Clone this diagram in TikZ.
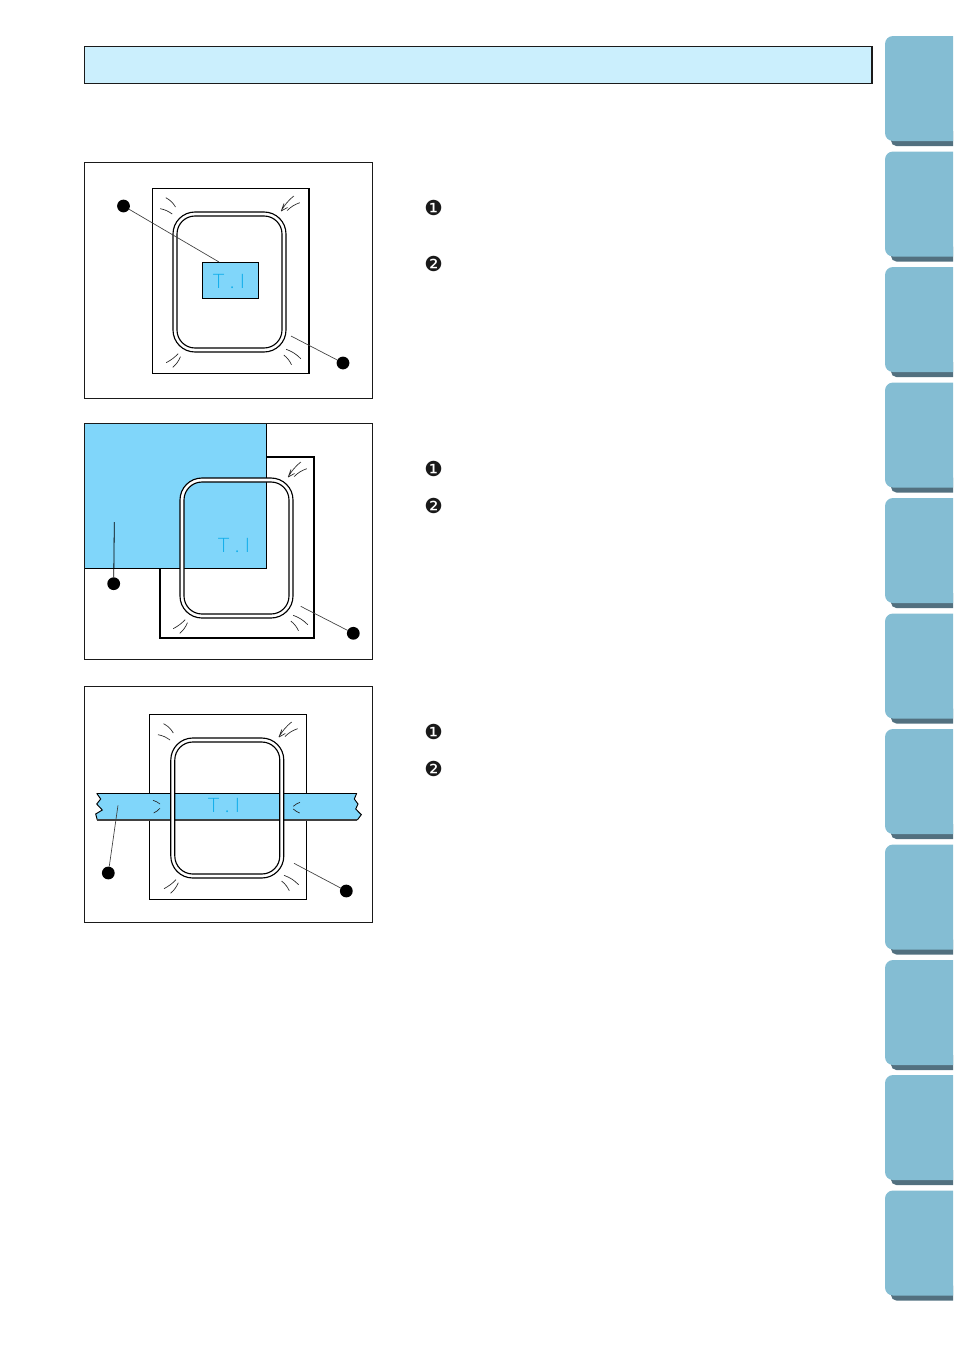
\documentclass[tikz,border=0pt]{standalone}
\usepackage{fontspec}
\setmainfont{Liberation Sans}
\newfontfamily\numfont{DejaVu Sans}
\newfontfamily\tifont{Lato Light}
\definecolor{headerfill}{HTML}{CBEFFD}
\definecolor{tabfill}{HTML}{84BDD3}
\definecolor{tabshade}{HTML}{52707F}
\definecolor{fabric}{HTML}{80D6FA}
\definecolor{tiblue}{HTML}{12AEEB}
\definecolor{inkline}{HTML}{1A1A1A}
\tikzset{
  every node/.style={outer sep=0pt},
  panelbox/.style={draw=inkline,line width=0.85pt,fill=white},
  sheetbox/.style={draw=black,line width=0.95pt,fill=white},
  fabricbox/.style={fill=fabric},
  edgeline/.style={draw=black,line width=0.85pt},
  hoopline/.style={draw=black,line width=0.85pt},
  wrinkle/.style={draw=black!85,line width=0.5pt},
  leader/.style={draw=black!75,line width=0.5pt},
  dotnode/.style={circle,fill=black,inner sep=0pt,minimum size=9.6pt},
  tilabel/.style={text=tiblue,font=\tifont\fontsize{15pt}{16pt}\selectfont,inner sep=0pt},
  numlabel/.style={font=\numfont\fontsize{15.5pt}{16pt}\selectfont,text=black!90,inner sep=0pt},
  tabshadow/.style={fill=tabshade},
  tabbody/.style={fill=tabfill},
}
\newcommand{\hoopat}[2]{%
  \begin{scope}[shift={(#1,#2)}]
    \fill[white,even odd rule,rounded corners=16.5pt] (-56.5,-70) rectangle (56.5,70)
      [rounded corners=13.5pt] (-52.5,-66) rectangle (52.5,66);
    \draw[hoopline,rounded corners=16.5pt] (-56.5,-70) rectangle (56.5,70);
    \draw[hoopline,rounded corners=13.5pt] (-52.5,-66) rectangle (52.5,66);
  \end{scope}}
\newcommand{\wrinklesat}[2]{%
  \begin{scope}[shift={(#1,#2)}]
    \draw[wrinkle] (-63.7,-84.3) to[bend left=15] (-54,-75);
    \draw[wrinkle] (-69.3,-73.3) to[bend left=12] (-57.3,-68);
    \draw[wrinkle] (64.3,-86) to[bend right=10] (51.7,-71) -- (54.5,-78.5);
    \draw[wrinkle] (51.7,-71) -- (58,-74.5);
    \draw[wrinkle] (70.3,-79.3) to[bend right=12] (57.7,-71.5);
    \draw[wrinkle] (-63.3,80.7) to[bend right=8] (-51.3,71.7);
    \draw[wrinkle] (-56.7,85.3) to[bend right=12] (-49,74.7);
    \draw[wrinkle] (56.7,67.3) to[bend left=12] (71.3,76.7);
    \draw[wrinkle] (54.3,73) to[bend left=12] (62,82.7);
  \end{scope}}
\begin{document}
\begin{tikzpicture}[x=0.75pt,y=-0.75pt]
\useasboundingbox (0,0) rectangle (954,1349);
% tabs
\begin{scope}
  \clip (0,0) rectangle (953,1349);
  \foreach \ty in {36,151.5,267,382.5,498,613.5,729,844.5,960,1075,1190.5}{
    \fill[tabshadow,rounded corners=4pt] (891,\ty+95) rectangle (965,\ty+110);
    \fill[tabbody,rounded corners=6pt] (885,\ty) rectangle (965,\ty+105);
  }
\end{scope}
% header
\node[draw=inkline,line width=0.85pt,fill=headerfill,inner sep=0pt,minimum width=590.6pt,minimum height=27.75pt,anchor=north west] (header) at (84.5,46.5) {};

% panel 1
\node[panelbox,inner sep=0pt,minimum width=216pt,minimum height=177pt,anchor=north west] (panelA) at (84.5,162.5) {};
\node[sheetbox,inner sep=0pt,minimum width=117.5pt,minimum height=138.5pt,anchor=north west] (sheetA) at (152.4,188.5) {};
\wrinklesat{229.5}{282}
\hoopat{229.5}{282}
\node[fabricbox,edgeline,inner sep=0pt,minimum width=42.2pt,minimum height=27pt,anchor=north west] (patchA) at (202.5,262.3) {};
\node[tilabel] (tiA) at (229,281.5) {T . I};
\node[dotnode] (dotAa) at (123.5,206) {};
\node[dotnode] (dotAb) at (343,363) {};
\coordinate (endAa) at (219,262);
\coordinate (endAb) at (291,336);
\draw[leader] (dotAa) -- (endAa);
\draw[leader] (dotAb) -- (endAb);

% panel 2
\node[fill=white,inner sep=0pt,minimum width=216pt,minimum height=177pt,anchor=north west] (panelBg) at (84.5,423.5) {};
\node[sheetbox,line width=1.15pt,inner sep=0pt,minimum width=115.5pt,minimum height=136pt,anchor=north west] (sheetB) at (160,456.9) {};
\wrinklesat{236.5}{548}
\node[fabricbox,inner sep=0pt,minimum width=136.2pt,minimum height=108.5pt,anchor=north west] (patchB) at (84.5,423.5) {};
\draw[edgeline] (patchB.north east) -- (patchB.south east) -- (patchB.south west);
\node[draw=inkline,line width=0.85pt,inner sep=0pt,minimum width=216pt,minimum height=177pt,anchor=north west] (panelB) at (84.5,423.5) {};
\hoopat{236.5}{548}
\node[tilabel] (tiB) at (234,545.5) {T . I};
\node[dotnode] (dotBa) at (113.7,583.7) {};
\node[dotnode] (dotBb) at (353.3,633.3) {};
\coordinate (endBa) at (114.3,522);
\coordinate (endBb) at (300.7,606.3);
\draw[line width=0.6pt,black] (dotBa) -- (endBa);
\draw[leader] (dotBb) -- (endBb);

% panel 3
\node[panelbox,inner sep=0pt,minimum width=216pt,minimum height=177pt,anchor=north west] (panelC) at (84.5,686.5) {};
\node[sheetbox,line width=0.9pt,inner sep=0pt,minimum width=117.75pt,minimum height=138.75pt,anchor=north west] (sheetC) at (149.3,714.3) {};
\wrinklesat{227.3}{808}
\fill[fabric] (96.7,793.3) -- (100.7,799) -- (96.7,804) -- (102.3,810) -- (95.7,814) -- (97.3,820)
  -- (357.3,820) -- (361.3,814.7) -- (355.7,809) -- (358,804) -- (354.3,799) -- (356.7,793.3) -- cycle;
\draw[line width=0.7pt,black] (96.7,793.3) -- (100.7,799) -- (96.7,804) -- (102.3,810) -- (95.7,814) -- (97.3,820);
\draw[line width=0.7pt,black] (356.7,793.3) -- (354.3,799) -- (358,804) -- (355.7,809) -- (361.3,814.7) -- (357.3,820);
\draw[line width=0.7pt,black] (97,793.5) -- (356.7,793.5);
\draw[line width=1.3pt,black!75] (97.3,820) -- (357.3,820);
\draw[wrinkle] (153,800.3) to[bend left=10] (160,804);
\draw[wrinkle] (160,808.3) to[bend left=10] (153.7,813);
\draw[wrinkle] (300,802.3) to[bend right=10] (293.3,806.3);
\draw[wrinkle] (293.3,809) to[bend right=10] (299.7,813);
\hoopat{227.3}{808}
\node[tilabel] (tiC) at (224,805.5) {T . I};
\node[dotnode] (dotCa) at (108.3,873) {};
\node[dotnode] (dotCb) at (346.3,891) {};
\coordinate (endCa) at (118,805.3);
\coordinate (endCb) at (294,863.3);
\draw[leader] (dotCa) -- (endCa);
\draw[leader] (dotCb) -- (endCb);

% numbered marks
\node[numlabel] (numAa) at (433.7,207.8) {❶};
\node[numlabel] (numAb) at (433.7,263.8) {❷};
\node[numlabel] (numBa) at (433.7,468.8) {❶};
\node[numlabel] (numBb) at (433.7,505.8) {❷};
\node[numlabel] (numCa) at (433.7,731.8) {❶};
\node[numlabel] (numCb) at (433.7,768.8) {❷};
\end{tikzpicture}
\end{document}
